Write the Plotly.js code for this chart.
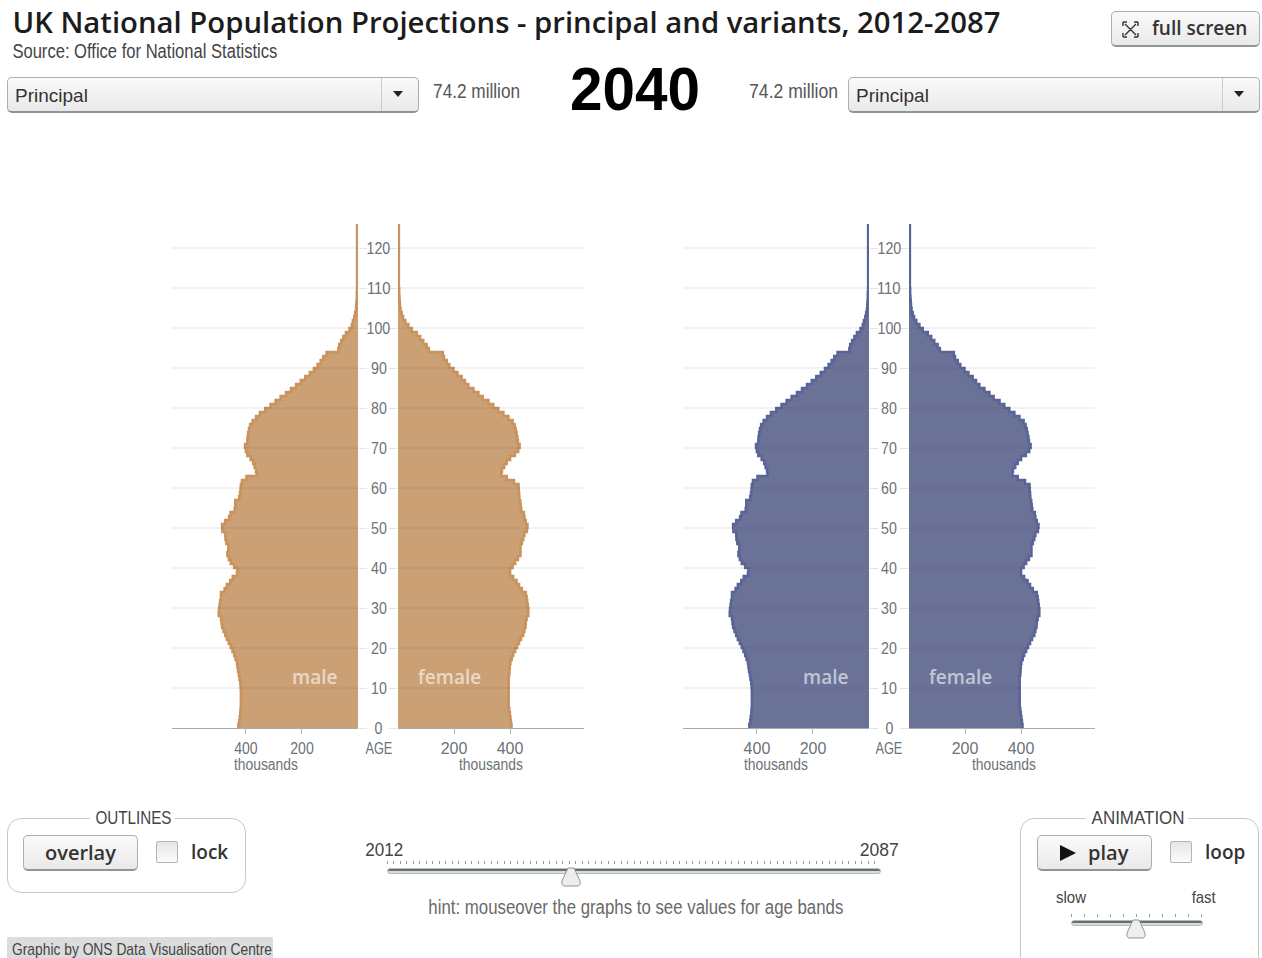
<!DOCTYPE html>
<html><head><meta charset="utf-8">
<script src="https://cdn.plot.ly/plotly-3.0.1.min.js"></script>
<style>
html,body{margin:0;padding:0;background:#fff;overflow:hidden}
#chrome{position:absolute;left:0;top:0;width:1262px;height:958px}
#chart{position:absolute;left:0;top:0;width:1262px;height:958px}
.w{position:absolute;box-sizing:border-box}
.btn{border:1px solid #a9b0b0;border-bottom:2px solid #8d9696;border-radius:5px;background:linear-gradient(#fafafa,#e9e9e9)}
.box{border:1px solid #c8c8c8;border-radius:14px;background:#fff}
.cb{border:1px solid #b5b5b5;border-radius:2px;background:linear-gradient(#e6e6e6,#fbfbfb)}
</style></head><body>
<div id="chrome"></div>
<div id="chart"></div>
<script>
// Population by single year of age, thousands (Principal projection, 2040)
const ages = [0,1,2,3,4,5,6,7,8,9,10,11,12,13,14,15,16,17,18,19,20,21,22,23,24,25,26,27,28,29,30,31,32,33,34,35,36,37,38,39,40,41,42,43,44,45,46,47,48,49,50,51,52,53,54,55,56,57,58,59,60,61,62,63,64,65,66,67,68,69,70,71,72,73,74,75,76,77,78,79,80,81,82,83,84,85,86,87,88,89,90,91,92,93,94,95,96,97,98,99,100,101,102,103,104,105,106,107,108,109,110,111,112,113,114,115,116,117,118,119,120,121,122,123,124,125,126];
const male = [427,424,422,420,419,418,418,418,418,418,419,420,423,425,428,430,432,437,442,448,454,461,468,474,480,485,487,489,497,496,494,492,489,489,476,468,456,447,432,430,442,454,461,466,463,463,470,473,474,484,485,474,460,455,440,438,438,424,421,419,418,414,398,362,364,369,374,383,395,400,403,395,394,392,389,385,376,364,350,331,312,294,276,257,239,221,204,188,172,157,144,133,124,112,70,67,60,52,43,30,22,18,13,10,7,6,5,4,4,3,3,3,3,3,3,3,3,3,3,3,3,3,3,3,3,3,3];
const female = [405,403,401,399,397,395,395,395,395,395,395,395,395,397,398,399,401,406,411,418,425,432,439,447,451,455,456,459,465,465,463,461,459,456,442,432,423,411,400,400,409,418,428,437,437,437,442,447,451,460,462,456,451,449,440,438,436,433,432,431,430,414,388,369,371,379,388,400,417,429,434,428,426,423,420,416,409,394,376,358,340,323,302,287,269,251,239,227,212,198,183,174,164,160,110,102,90,79,67,49,37,26,18,13,9,7,6,5,4,4,3,3,3,3,3,3,3,3,3,3,3,3,3,3,3,3,3];
const ageTicks = [0,10,20,30,40,50,60,70,80,90,100,110,120];
const gridAges = [10,20,30,40,50,60,70,80,90,100,110,120];
const valueTicks = [200,400];
const panelSex = ['male','female'];
const title = 'UK National Population Projections - principal and variants, 2012-2087';
const source = 'Source: Office for National Statistics';
const yearShown = '2040';
const variantName = 'Principal';
const totalLabel = '74.2 million';
const firstYear = '2012', lastYear = '2087';
const hint = 'hint: mouseover the graphs to see values for age bands';
const credit = 'Graphic by ONS Data Visualisation Centre';

const W = 1262, H = 958;
const SANS = '"Liberation Sans",sans-serif';
const OPEN = '"Open Sans",sans-serif';
const px = x => x / W, py = y => 1 - y / H;

const ORANGE = {fill:'rgb(204,160,117)', line:'#c8935d'};
const BLUE = {fill:'rgb(107,114,152)', line:'#5a6496'};

function areaTrace(vals, xa, ya, c, name){
  return {type:'scatter', mode:'lines', x:vals, y:ages, xaxis:xa, yaxis:ya, name:name,
    fill:'tozerox', fillcolor:c.fill, line:{color:c.line, width:2.6, shape:'vh'}, hoverinfo:'x+y', showlegend:false};
}
const data = [
  areaTrace(male,'x','y',ORANGE,'male'),
  areaTrace(female,'x2','y2',ORANGE,'female'),
  areaTrace(male,'x3','y3',BLUE,'male'),
  areaTrace(female,'x4','y4',BLUE,'female')
];

const TICKCOL = '#6c7278';
function xAxis(l, r, rev, anchor){
  return {domain:[px(l),px(r)], range: rev ? [664,0] : [0,664], anchor:anchor, tickmode:'array', tickvals:valueTicks,
    ticks:'outside', ticklen:5, tickcolor:'#b5b5b5', showgrid:false, zeroline:false, showline:true, linecolor:'#aaa', linewidth:1,
    ticklabelstandoff:1, tickfont:{family:SANS, size:16, color:TICKCOL}, fixedrange:true};
}
function yAxis(side, anchor){
  return {domain:[py(728),py(224)], range:[0,126], side:side, anchor:anchor, tickmode:'array', tickvals:ageTicks,
    showticklabels:false, ticks:'outside', ticklen:8, tickcolor:'#e4e4e4', showgrid:false,
    zeroline:false, showline:false, fixedrange:true};
}
const shapes = [];
['','2','3','4'].forEach(s=>{
  gridAges.forEach(a=>{
    shapes.push({type:'line', layer:'above', xref:'x'+s+' domain', yref:'y'+s, x0:0, x1:1, y0:a, y1:a,
      line:{color:'rgba(70,70,70,0.14)', width:1}});
  });
});
const layout = {
  width:W, height:H, margin:{l:0,r:0,t:0,b:0}, paper_bgcolor:'rgba(0,0,0,0)', plot_bgcolor:'rgba(0,0,0,0)', showlegend:false,
  xaxis:xAxis(172,358,true,'y'), yaxis:yAxis('right','x'),
  xaxis2:xAxis(398,584,false,'y2'), yaxis2:yAxis('left','x2'),
  xaxis3:xAxis(683,869,true,'y3'), yaxis3:yAxis('right','x3'),
  xaxis4:xAxis(909,1095,false,'y4'), yaxis4:yAxis('left','x4'),
  annotations:[], shapes:shapes
};
const fits = {};
// fit = rendered width in px (the original uses a condensed face)
function note(text,x,y,size,color,family,anchor,weight,fit){
  layout.annotations.push({text:text, xref:'paper', yref:'paper', x:px(x), y:py(y), showarrow:false,
    xanchor:anchor||'left', yanchor:'middle', borderpad:0,
    font:{family:family, size:size, color:color, weight:weight||400}});
  if(fit) fits[layout.annotations.length-1]=fit;
}
// header
note(title,506,21.5,29,'#1c1c1c',OPEN,'center',600,988);
note(source,144.5,51,20,'#444',SANS,'center',400,265);
note(variantName,14,96,19,'#333',SANS);
note(variantName,855,96,19,'#333',SANS);
note(totalLabel,476.5,91,20,'#555',SANS,'center',400,87);
note(totalLabel,793.5,91,20,'#555',SANS,'center',400,89);
note(yearShown,634.5,88,62,'#000',SANS,'center',700,130);
note('full screen',1151,28,19,'#333',OPEN,'left',600);
// central age labels and panel text
[378.5,889.5].forEach(cx=>{
  ageTicks.forEach(t=>{
    layout.annotations.push({text:String(t), xref:'paper', yref:'y', x:px(cx), y:t, showarrow:false, xanchor:'center', yanchor:'middle',
      font:{family:SANS,size:16,color:TICKCOL}});
    fits[layout.annotations.length-1]=String(t).length*7.9;
  });
  note('AGE',cx,748,16,TICKCOL,SANS,'center',400,27);
});
[[266,491,314,449.5],[776,1004,825,960.5]].forEach(a=>{
  note('thousands',a[0],764,16,TICKCOL,SANS,'center',400,64);
  note('thousands',a[1],764,16,TICKCOL,SANS,'center',400,64);
  note(panelSex[0],a[2],677,19,'rgba(255,255,255,0.6)',OPEN,'center',600);
  note(panelSex[1],a[3],677,19,'rgba(255,255,255,0.6)',OPEN,'center',600);
});
// controls text
note('OUTLINES',133,817,19,'#444',SANS,'center',400,76);
note('overlay',81,852,20,'#333',OPEN,'center',600);
note('lock',190,852,19,'#333',OPEN,'left',600);
note(firstYear,384,849,19,'#444',SANS,'center',400,38);
note(lastYear,879.5,849,19,'#444',SANS,'center',400,39);
note(hint,635.5,907,20,'#6a6a6a',SANS,'center',400,415);
note('ANIMATION',1137.5,817,19,'#444',SANS,'center',400,93);
note('play',1108,852,20,'#333',OPEN,'center',600);
note('loop',1204,852,19,'#333',OPEN,'left',600);
note('slow',1071,897,17,'#444',SANS,'center',400,30);
note('fast',1204,897,17,'#444',SANS,'center',400,24);
note(credit,142,949,17,'#444',SANS,'center',400,260);

// static control chrome (dropdowns, buttons, sliders): page furniture behind the chart
const chrome = document.getElementById('chrome');
function div(cls,l,t,w,h,extra){
  const d=document.createElement('div'); d.className='w '+cls;
  d.style.cssText+=`left:${l}px;top:${t}px;width:${w}px;height:${h}px;`+(extra||''); chrome.appendChild(d); return d;
}
function dropdown(l){
  div('btn',l,77,412,36);
  div('',l+374,78,1,33,'background:#c9cdcd;');
  div('',l+386,91,10,7).innerHTML='<svg width="10" height="7" style="display:block"><polygon points="0,0 10,0 5,6" fill="#222"/></svg>';
}
dropdown(7); dropdown(848);
div('btn',1111,11,149,36);
div('',1122,21,17,17).innerHTML='<svg width="17" height="17" fill="none" stroke="#333" stroke-width="1.4"><path d="M1 1h4M1 1v4M16 1h-4M16 1v4M1 16h4M1 16v-4M16 16h-4M16 16v-4M3 3l11 11M14 3L3 14" /></svg>';
div('box',7,818,239,75);
div('',90,812,85,12,'background:#fff;');
div('box',1020,818,239,160);
div('',1086,812,102,12,'background:#fff;');
div('btn',23,835,115,36);
div('btn',1037,835,115,36);
div('',1060,845,16,16).innerHTML='<svg width="16" height="16"><polygon points="0,0 16,8 0,16" fill="#111"/></svg>';
div('cb',156,841,22,22); div('cb',1170,841,22,22);
function slider(l,r,tickY,trackY,thumbX,step){
  div('',l,tickY,r-l,3,`background:repeating-linear-gradient(90deg,#9a9a9a 0 1px,transparent 1px ${step}px);`);
  div('',l,trackY,r-l,6,'background:linear-gradient(#66706e 0 2px,#d8dcdc 2px);border-radius:3px;border:1px solid #b5baba;box-sizing:border-box;');
  div('',thumbX-11,trackY-1,22,21).innerHTML='<svg width="22" height="21"><path d="M8 1h6l6 13q1 5-3 5H5q-4 0-3-5z" fill="#eee" stroke="#8d9696"/></svg>';
}
slider(387,881,861,868,571,6.5);
slider(1071,1203,914,920,1136,13);
div('',7,937,266,21,'background:#dcdcdc;');

Plotly.newPlot('chart',data,layout,{displayModeBar:false,responsive:false}).then(gd=>{
  function fit(el,w){ el.setAttribute('textLength',w); el.setAttribute('lengthAdjust','spacingAndGlyphs'); }
  Object.keys(fits).forEach(i=>{
    const t=gd.querySelector('.annotation[data-index="'+i+'"] text');
    if(t) fit(t,fits[i]);
  });
  gd.querySelectorAll('.xtick text').forEach(t=>fit(t,23.5));
});
</script>
</body></html>
